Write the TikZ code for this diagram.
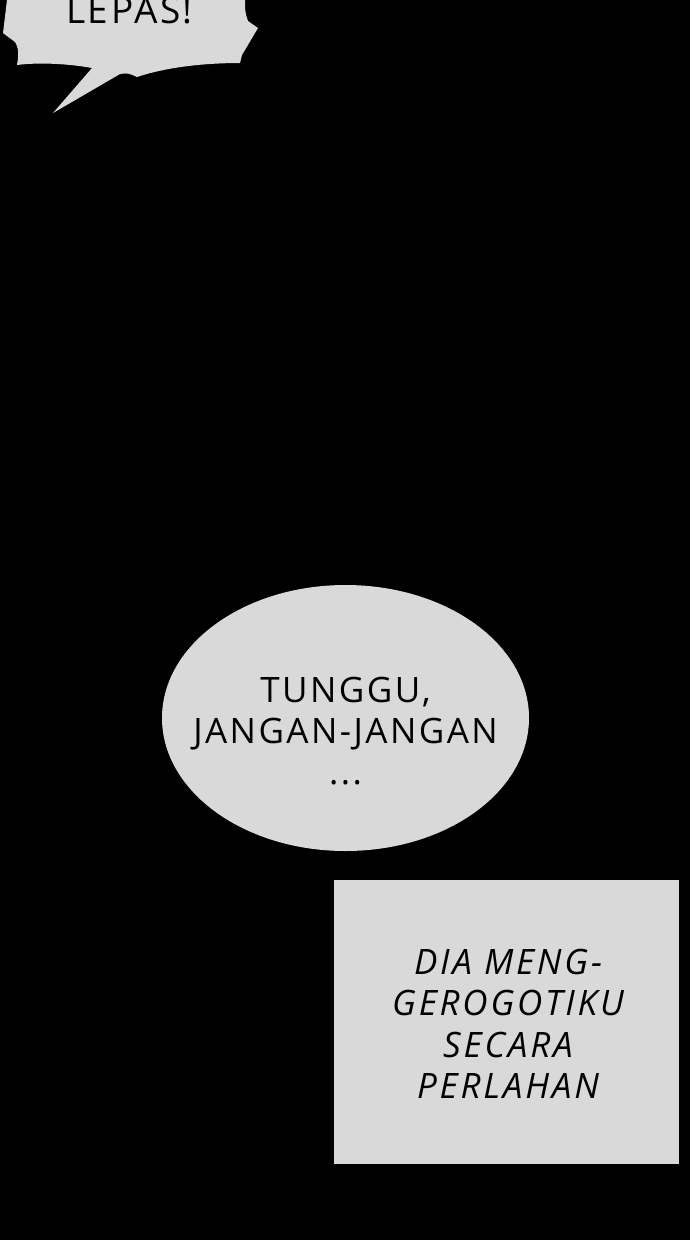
\documentclass[tikz,border=0pt]{standalone}
\usepackage{fontspec}
\setmainfont{Open Sans}
\newfontfamily\spaced[LetterSpace=7]{Open Sans}
\newfontfamily\spacedit[LetterSpace=8]{Open Sans}
\usetikzlibrary{shapes.geometric}
\definecolor{bubblegray}{RGB}{217,217,217}
\tikzset{
  bubble/.style={fill=bubblegray, draw=none, inner sep=0pt},
  talk/.style={align=center, text=black, font=\spaced\fontsize{35}{41}\selectfont},
}
\begin{document}
\begin{tikzpicture}[x=1pt,y=-1pt, line join=round]
\fill[black] (0,0) rectangle (690,1240);
\useasboundingbox (0,0) rectangle (690,1240);
% top bubble, cut by the page edge
\begin{scope}
\clip (0,0) rectangle (690,1240);
\fill[bubblegray] (7,-5)--(7,0)--(3,33)--(15,42)
  .. controls (20,50) and (18,58) .. (17,65)
  .. controls (40,62) and (70,64) .. (92,68)
  --(53,113)--(120,74)
  .. controls (128,73) .. (137,77)
  .. controls (170,66) and (210,63) .. (240,63)
  --(242,55)--(258,28)--(248,21)
  .. controls (245,12) .. (245,-5)--cycle;
\end{scope}
\node[talk, font=\spaced\fontsize{37}{41}\selectfont, anchor=base] (lepas) at (129.5,23) {LEPAS!};
% ellipse bubble
\node[bubble, ellipse, minimum width=367pt, minimum height=266pt] (tunggu) at (345.5,718) {};
\node[talk] (tunggutext) at (345.5,731) {TUNGGU,\\JANGAN-JANGAN\\...};
% caption box
\node[bubble, minimum width=345pt, minimum height=284pt] (kotak) at (506.5,1022) {};
\node[talk, font=\spacedit\fontsize{35}{41.5}\selectfont\itshape] (kotaktext) at (508,1024)
  {DIA MENG-\\GEROGOTIKU\\SECARA\\PERLAHAN};
\end{tikzpicture}
\end{document}
